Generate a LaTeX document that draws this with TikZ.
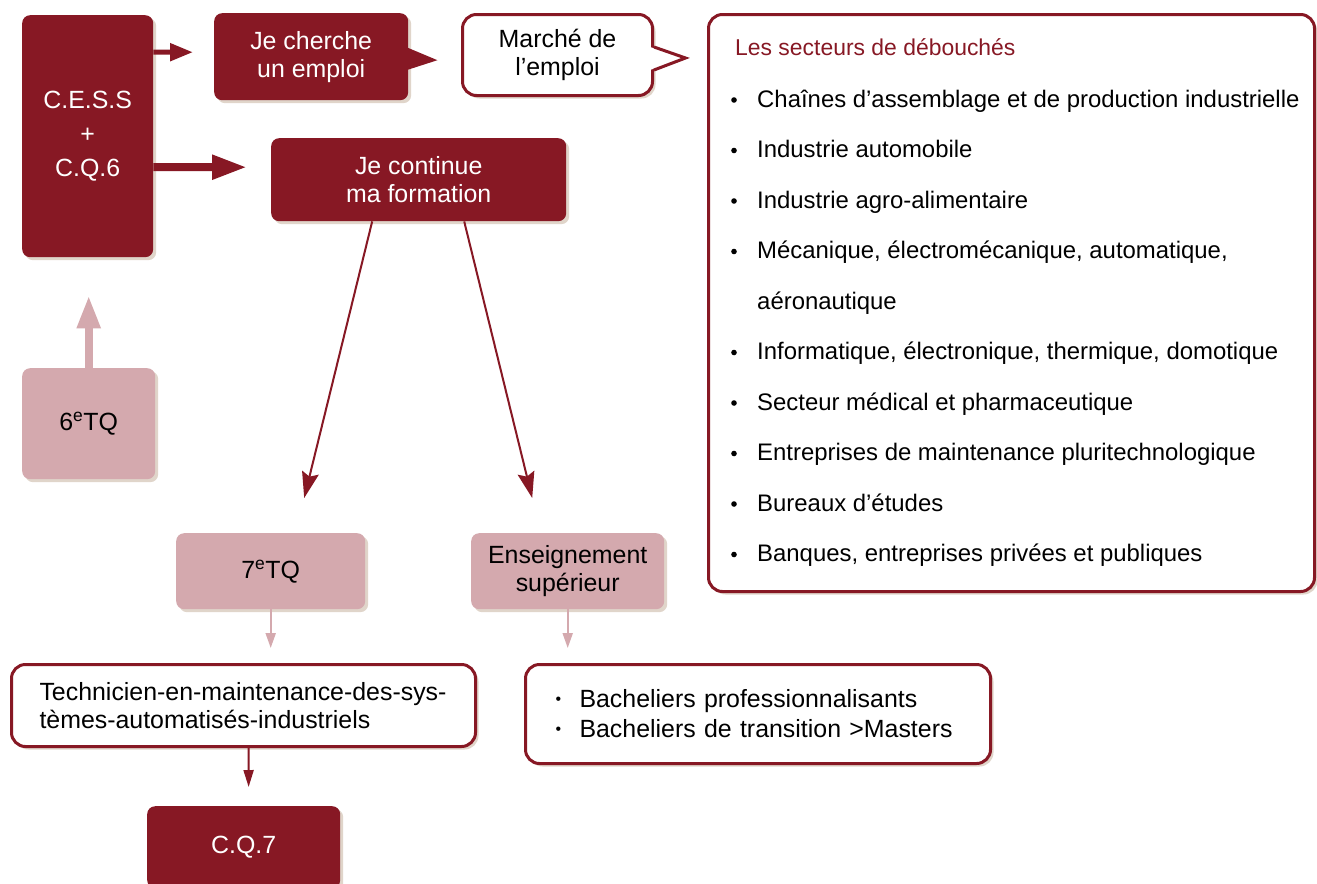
\documentclass[tikz,border=0pt]{standalone}
\usepackage{fontspec}
\setmainfont{Liberation Sans}
\usetikzlibrary{arrows.meta,shadows}
\definecolor{bordeaux}{RGB}{135,24,36}
\definecolor{rosepale}{RGB}{212,169,174}
\newcommand{\petitpoint}{\makebox[24bp][l]{\raisebox{3.5bp}{\fontsize{16}{16}\selectfont\textbullet}}}

\begin{document}
\begin{tikzpicture}[x=1bp, y=-1bp,
  every node/.style={font=\fontsize{25}{28}\selectfont, inner sep=0pt},
  ombre/.style={drop shadow={fill=brown!70!black, opacity=0.25, shadow xshift=3bp, shadow yshift=-3bp}},
  foncee/.style={fill=bordeaux, text=white, rounded corners=8bp, align=center, anchor=north west, ombre},
  pale/.style={fill=rosepale, rounded corners=8bp, align=center, anchor=north west, ombre},
  cadre/.style={fill=white, draw=bordeaux, line width=3bp, rounded corners=14bp, anchor=north west, ombre},
  liste/.style={font=\fontsize{24}{28}\selectfont, anchor=base west}]
  \useasboundingbox (0,0) rectangle (1317,883);
  \fill[white] (0,0) rectangle (1317,883);

  % left column
  \node[foncee, minimum width=131bp, minimum height=242bp] (cess) at (22,15)
    {C.E.S.S\\[6pt]+\\[6pt]C.Q.6};
  \node[pale, minimum width=133bp, minimum height=111bp] (sixtq) at (22,368) {6\textsuperscript{e}TQ};

  % top row
  \node[foncee, minimum width=194bp, minimum height=87bp] (emploi) at (214,13) {Je cherche\\un emploi};
  \fill[bordeaux] ([shift={(-2bp,9.5bp)}]emploi.east) -- ([shift={(29bp,-3.5bp)}]emploi.east)
    -- ([shift={(-2bp,-13.5bp)}]emploi.east) -- cycle;
  \node[cadre, align=center, minimum width=190bp, minimum height=81bp] (marche) at (461,13) {Marché de\\l’emploi};
  \fill[white] ([shift={(-4bp,8bp)}]marche.east) -- ([shift={(31.5bp,-3bp)}]marche.east)
    -- ([shift={(-4bp,-15bp)}]marche.east) -- cycle;
  \draw[bordeaux, line width=3bp] ([yshift=8bp]marche.east) -- ([shift={(31.5bp,-3bp)}]marche.east)
    -- ([yshift=-15bp]marche.east);

  \node[foncee, minimum width=295bp, minimum height=83bp] (formation) at (271,138) {Je continue\\ma formation};

  % sectors list
  \node[cadre, minimum width=606bp, minimum height=577bp] (secteurs) at (707,13) {};
  \node[liste, font=\fontsize{23}{28}\selectfont, text=bordeaux] (titre) at (735,55) {Les secteurs de débouchés};
  \foreach \k/\b/\t in {0/1/{Chaînes d’assemblage et de production industrielle},
      1/1/{Industrie automobile}, 2/1/{Industrie agro-alimentaire},
      3/1/{Mécanique, électromécanique, automatique,}, 4/0/{aéronautique},
      5/1/{Informatique, électronique, thermique, domotique},
      6/1/{Secteur médical et pharmaceutique},
      7/1/{Entreprises de maintenance pluritechnologique},
      8/1/{Bureaux d’études}, 9/1/{Banques, entreprises privées et publiques}} {
    \node[liste] (sect\k) at (757,{107+50.5*\k}) {\t};
    \ifnum\b=1 \fill (734,{100+50.5*\k}) circle (2.8bp); \fi
  }

  % second level
  \node[pale, minimum width=189bp, minimum height=76bp] (septtq) at (176,533) {7\textsuperscript{e}TQ};
  \node[pale, minimum width=193bp, minimum height=76bp] (sup) at (471,533) {Enseignement\\supérieur};
  \node[cadre, align=left, text width=408bp, inner xsep=28bp, minimum height=82bp] (tech) at (10,663)
    {Technicien-en-maintenance-des-sys-\\tèmes-automatisés-industriels};
  \node[cadre, align=left, text width=405bp, inner xsep=30bp, minimum height=99bp,
    font=\fontsize{25}{30}\selectfont] (bach) at (524,663)
    {\petitpoint Bacheliers professionnalisants\\
     \petitpoint Bacheliers de transition >Masters};
  \node[foncee, minimum width=193bp, minimum height=82bp] (cqsept) at (147,806) {C.Q.7};

  % arrows
  \draw[bordeaux, line width=5bp, -{Triangle[length=23bp,width=17bp]}, shorten >=21bp]
    ([yshift=84bp]cess.east) -- ([yshift=4.5bp]emploi.west);
  \draw[bordeaux, line width=8bp, -{Triangle[length=35bp,width=23bp]}, shorten >=24bp]
    ([yshift=-31bp]cess.east) -- ([yshift=12.5bp]formation.west);
  \draw[rosepale, line width=8bp, -{Triangle[length=33bp,width=22bp]}, shorten >=38bp]
    (sixtq.north) -- (sixtq.north |- cess.south);
  \draw[bordeaux, line width=2bp, -{Stealth[length=26bp,width=17bp,inset=4bp]}]
    ([xshift=-46.5bp]formation.south) -- ([shift={(33.5bp,35bp)}]septtq.north);
  \draw[bordeaux, line width=2bp, -{Stealth[length=26bp,width=17bp,inset=4bp]}]
    ([xshift=45.5bp]formation.south) -- ([shift={(-35.5bp,35bp)}]sup.north);
  \draw[rosepale, line width=2bp, -{Triangle[length=15bp,width=10bp]}, shorten >=15bp]
    (septtq.south) -- (septtq.south |- tech.north);
  \draw[rosepale, line width=2bp, -{Triangle[length=15bp,width=10bp]}, shorten >=15bp]
    (sup.south) -- (sup.south |- bach.north);
  \draw[bordeaux, line width=2bp, -{Triangle[length=17bp,width=10bp]}, shorten >=19bp]
    ([xshift=5bp]tech.south) -- ([xshift=5bp]cqsept.north);
\end{tikzpicture}
\end{document}
